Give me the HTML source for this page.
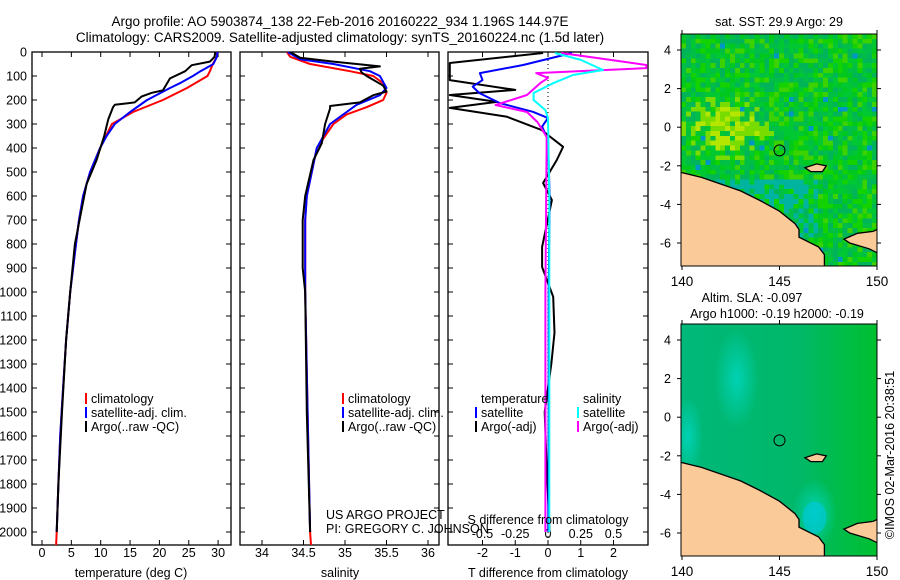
<!DOCTYPE html>
<html><head><meta charset="utf-8">
<style>
body{margin:0;background:#fff;}
svg{display:block;font-family:"Liberation Sans",sans-serif;}
text{font-size:12.5px;fill:#000;}
</style></head>
<body>
<svg id="c" width="900" height="580" viewBox="0 0 900 580">
<text x="340" y="26" text-anchor="middle" style="font-size:13.5px">Argo profile: AO 5903874_138 22-Feb-2016 20160222_934 1.196S 144.97E</text>
<text x="340" y="42" text-anchor="middle" style="font-size:13.5px">Climatology: CARS2009. Satellite-adjusted climatology: synTS_20160224.nc (1.5d later)</text>
</svg>
<script>
// ---- data ----
const tClimDepth=[0,20,50,80,100,150,200,250,300,400,500,600,700,800,900,1000,1200,1400,1600,1800,2000,2054];
const tClimVal=[29.8,29.8,29.1,28.6,28.2,24.7,20.6,15.5,11.9,9.9,8.2,7.0,6.3,5.8,5.3,4.8,4.1,3.6,3.1,2.8,2.5,2.4];
const tSatDepth=[0,20,50,80,100,130,150,200,250,300,350,400,500,600,700,800,900,1000,1200,1400,1600,1800,2000];
const tSatVal=[29.9,29.8,29.2,27.0,25.7,23.5,21.8,17.9,15.0,12.4,11.0,9.9,8.2,7.0,6.3,5.8,5.3,4.8,4.1,3.6,3.1,2.8,2.5];
const tArgoDepth=[0,20,40,55,80,110,160,170,185,210,220,230,280,350,450,550,650,800,1000,1200,1500,1800,2000];
const tArgoVal=[29.5,29.4,28.6,25.5,24.4,21.8,20.6,18.7,17.0,15.8,12.4,12.1,11.3,10.6,9.3,7.6,6.8,5.6,4.8,4.1,3.4,2.8,2.5];
const sClimDepth=[0,20,50,80,100,130,170,200,230,260,300,400,500,600,700,1000,1500,2000,2054];
const sClimVal=[34.30,34.34,34.58,35.06,35.34,35.46,35.50,35.46,35.26,35.02,34.86,34.66,34.60,34.54,34.52,34.52,34.55,34.58,34.59];
const sSatDepth=[0,30,50,80,100,150,180,220,260,300,400,500,600,700,1000,1500,2000];
const sSatVal=[34.31,34.46,34.86,35.30,35.42,35.50,35.42,35.14,34.98,34.82,34.66,34.60,34.54,34.52,34.52,34.55,34.58];
const sArgoDepth=[0,24,40,60,70,85,100,140,165,180,210,225,235,300,380,450,600,700,900,1000,1500,2000];
const sArgoVal=[34.34,34.46,34.86,35.42,35.18,35.20,35.26,35.46,35.50,35.34,35.18,34.82,34.82,34.76,34.72,34.62,34.52,34.49,34.49,34.52,34.54,34.58];
const dTSatDepth=[4,54,88,117,144,171,213,249,275,311,367,600,1000,1500,2000];
const dTSatVal=[0.73,-0.76,-2.08,-2.0,-2.3,-2.1,-1.47,-0.46,0.0,-0.18,0.0,0.05,0.02,0.02,0.01];
const dTArgoDepth=[4,46,117,158,179,208,233,270,325,395,450,546,617,812,896,1020,1170,1300,1500,1700,2000];
const dTArgoVal=[-0.15,-3.0,-3.0,-1.0,-3.0,-1.56,-3.0,-1.25,-0.2,0.46,0.27,-0.15,0.12,-0.18,-0.18,0.16,0.2,0.1,-0.1,-0.05,0.05];
const dSSatDepth=[4,33,75,96,130,171,200,242,275,600,1000,2000];
const dSSatVal=[0.053,0.25,0.42,0.19,0.04,-0.11,-0.11,-0.02,0.0,0.01,0.01,0.01];
const dSArgoDepth=[4,21,54,67,88,108,130,179,221,250,292,354,1000,2000];
const dSArgoVal=[0.10,0.32,0.75,0.75,-0.09,0.0,-0.06,-0.16,-0.40,-0.16,-0.08,-0.01,-0.02,-0.02];
const depthTicks=[0,100,200,300,400,500,600,700,800,900,1000,1100,1200,1300,1400,1500,1600,1700,1800,1900,2000];
const tTicks=[0,5,10,15,20,25,30];
const sTicks=[34,34.5,35,35.5,36];
const dTTicks=[-2,-1,0,1,2];
const dSTicks=[-0.5,-0.25,0,0.25,0.5];
const latTicks=[4,2,0,-2,-4,-6];
const lonTicks=[140,145,150];

const NS='http://www.w3.org/2000/svg';
const svg=document.getElementById('c');
function el(tag,attrs,parent){const e=document.createElementNS(NS,tag);for(const k in attrs)e.setAttribute(k,attrs[k]);(parent||svg).appendChild(e);return e;}
function txt(x,y,s,anchor,name,extra){const t=el('text',Object.assign({x:x,y:y,'text-anchor':anchor||'start'},extra||{}));t.textContent=s;


return t;}

const Y0=52,Y1=545;
const yD=d=>Y0+d*0.24;
const xT=v=>42+v*5.87;
const xS=v=>262+(v-34)*83;
const xDT=v=>548+v*32.75;
const xDS=v=>548+v*131;

depthTicks.forEach(d=>txt(27,yD(d)+4.5,String(d),'end','depth-tick-label'));

function panel(x0,x1,name){
  const r=el('rect',{x:x0,y:Y0,width:x1-x0,height:Y1-Y0,fill:'#fff',stroke:'#000','stroke-width':1.3});
  
  
  depthTicks.forEach(d=>{
    const t1=el('line',{x1:x0,x2:x0+5,y1:yD(d),y2:yD(d),stroke:'#000'});
    
    
    const t2=el('line',{x1:x1-5,x2:x1,y1:yD(d),y2:yD(d),stroke:'#000'});
    
    
  });
}
function xticks(vals,fx,labels,ly,name,top){
  vals.forEach((v,i)=>{
    const a=el('line',{x1:fx(v),x2:fx(v),y1:Y1-5,y2:Y1,stroke:'#000'});
    
    
    if(top){const b=el('line',{x1:fx(v),x2:fx(v),y1:Y0,y2:Y0+5,stroke:'#000'});
    
    }
    if(labels) txt(fx(v),ly,String(v),'middle',name);
  });
}
function line(ds,vs,fx,color,name,clip){
  const p=ds.map((d,i)=>fx(vs[i]).toFixed(1)+','+yD(d).toFixed(1)).join(' ');
  const l=el('polyline',{points:p,fill:'none',stroke:color,'stroke-width':2,'stroke-linejoin':'round','clip-path':clip?'url(#'+clip+')':''});
  
  
}
const defs=el('defs',{});
[['cp1',32,231],['cp2',240,439],['cp3',448,648]].forEach(a=>{const c=el('clipPath',{id:a[0]},defs);el('rect',{x:a[1],y:Y0,width:a[2]-a[1],height:Y1-Y0},c);});

panel(32,231,'temperature-panel');
xticks(tTicks,xT,true,557,'temperature-tick-label',true);
line(tClimDepth,tClimVal,xT,'#f00','temperature-climatology-line','cp1');
line(tSatDepth,tSatVal,xT,'#00f','temperature-satellite-line','cp1');
line(tArgoDepth,tArgoVal,xT,'#000','temperature-argo-line','cp1');
txt(131,577,'temperature (deg C)','middle','temperature-axis-title');

panel(240,439,'salinity-panel');
xticks(sTicks,xS,true,557,'salinity-tick-label',true);
line(sClimDepth,sClimVal,xS,'#f00','salinity-climatology-line','cp2');
line(sSatDepth,sSatVal,xS,'#00f','salinity-satellite-line','cp2');
line(sArgoDepth,sArgoVal,xS,'#000','salinity-argo-line','cp2');
txt(340,577,'salinity','middle','salinity-axis-title');

panel(448,648,'difference-panel');
xticks(dTTicks,xDT,true,557,'t-difference-tick-label',true);
dSTicks.forEach(v=>txt(xDS(v),538,String(v),'middle','s-difference-tick-label'));
const zl=el('line',{x1:548,x2:548,y1:Y0,y2:Y1,stroke:'#000','stroke-dasharray':'1,3'});


line(dTArgoDepth,dTArgoVal,xDT,'#000','t-difference-argo-line','cp3');
line(dTSatDepth,dTSatVal,xDT,'#00f','t-difference-satellite-line','cp3');
line(dSArgoDepth,dSArgoVal,xDS,'#f0f','s-difference-argo-line','cp3');
line(dSSatDepth,dSSatVal,xDS,'#0ff','s-difference-satellite-line','cp3');
txt(548,577,'T difference from climatology','middle','t-difference-axis-title');
txt(548,524,'S difference from climatology','middle','s-difference-axis-title');

function legend(x,y,color,label){
  const m=el('line',{x1:x,x2:x,y1:y-10,y2:y+1,stroke:color,'stroke-width':2});
  
  
  txt(x+5,y,label,'start','legend-entry');
}
legend(86,403,'#f00','climatology');legend(86,417,'#00f','satellite-adj. clim.');legend(86,431,'#000','Argo(..raw -QC)');
legend(343,403,'#f00','climatology');legend(343,417,'#00f','satellite-adj. clim.');legend(343,431,'#000','Argo(..raw -QC)');
txt(481,403,'temperature','start','legend-header-temperature');
txt(583,403,'salinity','start','legend-header-salinity');
legend(476,417,'#00f','satellite');legend(476,431,'#000','Argo(-adj)');
legend(578,417,'#0ff','satellite');legend(578,431,'#f0f','Argo(-adj)');
txt(326,519,'US ARGO PROJECT','start','project-label');
txt(326,533,'PI: GREGORY C. JOHNSON','start','pi-label');

// ---- maps ----
const MX0=681,MX1=877;
const lonX=l=>682+(l-140)*19.5;
function mapFrame(top,name,kind){
  const latY=la=>top+16+(4-la)*19.3;
  const g=el('g',{});
  
  
  const cid='mc'+kind;
  const cp=el('clipPath',{id:cid},defs);el('rect',{x:MX0,y:top,width:MX1-MX0,height:232},cp);
  const inner=el('g',{'clip-path':'url(#'+cid+')','shape-rendering':'crispEdges'},g);
  if(kind===1){
    const cols=['#00c832','#00be46','#14d200','#00b45a','#3cd200','#00c81e','#00aa64','#00b4a0','#96e100'];
    el('rect',{x:MX0,y:top,width:196,height:232,fill:'#00c030'},inner);
    for(let i=0;i<40;i++)for(let j=0;j<48;j++){
      let h=((i*73856093)^(j*19349663))>>>0;h=(h%997)/997;
      const lo=140+i*0.25,la=4.85-j*0.25;
      let c=cols[Math.floor(h*6)];
      const dy=Math.hypot((lo-142.2)/1.6,(la-0.1)/1.1);
      if(dy<1&&h>0.25)c=(h>0.6?'#b4e600':'#78dc00');
      else if(dy<1.5&&h>0.7)c='#78dc00';
      if(la<-2.5&&la>-5.5&&lo<147&&h>0.55)c='#00b4a0';
      if(h>0.985)c='#0096c8';
      el('rect',{x:(MX0+i*4.9).toFixed(1),y:(top+j*4.85).toFixed(1),width:5.5,height:5.5,fill:c},inner);
    }
  } else {
    const gr=el('radialGradient',{id:'rg1'},defs);
    el('stop',{offset:'0','stop-color':'#00d2b4'},gr);el('stop',{offset:'1','stop-color':'#00d2b4','stop-opacity':0},gr);
    const lg=el('linearGradient',{id:'lg1',x1:0,x2:1,y1:0,y2:0},defs);
    el('stop',{offset:'0','stop-color':'#00b87a'},lg);el('stop',{offset:'0.6','stop-color':'#00b868'},lg);el('stop',{offset:'1','stop-color':'#00c030'},lg);
    el('rect',{x:MX0,y:top,width:196,height:232,fill:'url(#lg1)'},inner);
    el('ellipse',{cx:lonX(142.8),cy:latY(2),rx:22,ry:50,fill:'url(#rg1)'},inner);
    el('ellipse',{cx:lonX(140.3),cy:latY(-1),rx:15,ry:40,fill:'url(#rg1)'},inner);
    el('ellipse',{cx:lonX(146.8),cy:latY(-5),rx:22,ry:35,fill:'url(#rg1)'},inner);
    el('ellipse',{cx:lonX(146.8),cy:latY(-5.2),rx:12,ry:16,fill:'#00c8e0',opacity:0.6},inner);
  }
  const land=[[140,-2.35],[141,-2.6],[142,-2.95],[143,-3.3],[144,-3.8],[145,-4.35],[145.8,-5.0],[146,-5.3],[146,-5.7],[147,-6.2],[147.3,-6.6],[147.3,-7.3],[139.5,-7.3],[139.5,-2.35]];
  const nb=[[148.3,-5.8],[149,-5.5],[149.8,-5.4],[150.2,-5.2],[150.2,-6.6],[149.6,-6.3],[148.6,-6.0]];
  const isl=[[146.3,-2.1],[146.9,-1.9],[147.4,-2.0],[147.2,-2.3],[146.6,-2.3]];
  const landG=el('g',{'clip-path':'url(#'+cid+')'},g);
  [land,nb,isl].forEach((poly,k)=>{
    const p=el('polygon',{points:poly.map(q=>lonX(q[0]).toFixed(1)+','+latY(q[1]).toFixed(1)).join(' '),fill:'#facb98',stroke:'#000','stroke-width':1.3},landG);
    
    
  });
  const ci=el('circle',{cx:lonX(145),cy:latY(-1.2),r:5.5,fill:'none',stroke:'#000','stroke-width':1},g);
  
  
  el('rect',{x:MX0,y:top,width:MX1-MX0,height:232,fill:'none',stroke:'#000','stroke-width':1},g);
  latTicks.forEach(la=>{
    el('line',{x1:MX0-4,x2:MX0,y1:latY(la),y2:latY(la),stroke:'#000'},g);
    el('line',{x1:MX1,x2:MX1+4,y1:latY(la),y2:latY(la),stroke:'#000'},g);
    txt(671,latY(la)+4.5,String(la),'end','latitude-tick-label');
  });
  lonTicks.forEach(lo=>{
    el('line',{x1:lonX(lo),x2:lonX(lo),y1:top-4,y2:top,stroke:'#000'},g);
    el('line',{x1:lonX(lo),x2:lonX(lo),y1:top+232,y2:top+236,stroke:'#000'},g);
    txt(lonX(lo),top+252,String(lo),'middle','longitude-tick-label',{style:'font-size:13.5px'});
  });
}
mapFrame(34,'sst-map',1);
mapFrame(324,'sla-map',2);
txt(779,26,'sat. SST: 29.9 Argo: 29','middle','sst-map-title');
txt(752,302,'Altim. SLA: -0.097','middle','sla-map-title');
txt(777,318,'Argo h1000: -0.19 h2000: -0.19','middle','sla-map-subtitle');
txt(0,0,'\u00A9IMOS 02-Mar-2016 20:38:51','middle','timestamp-label',{transform:'translate(894,455) rotate(-90)'});
</script>
</body></html>
